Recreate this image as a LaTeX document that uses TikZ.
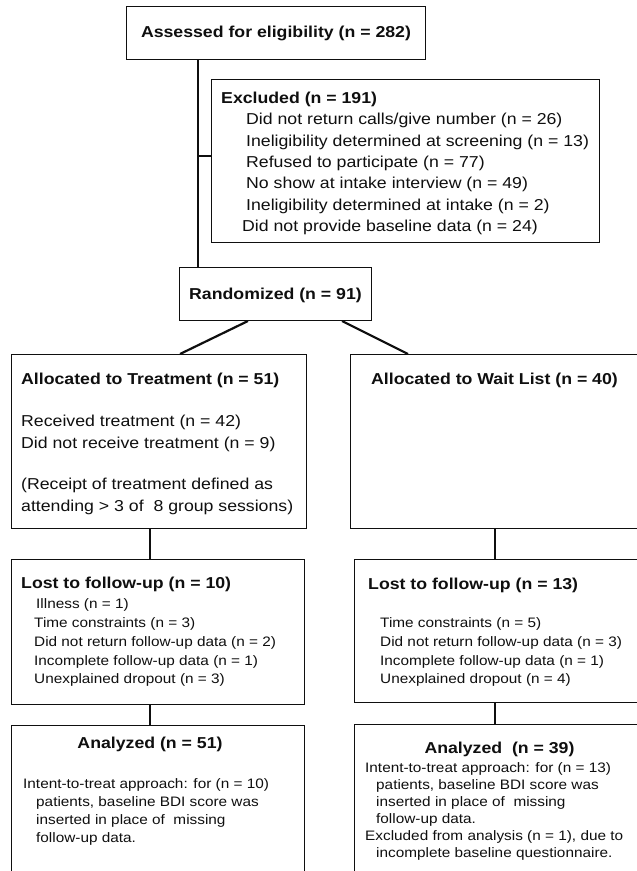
\documentclass[tikz,border=0pt]{standalone}
\usepackage{fontspec}
\setmainfont[FakeStretch=1.12]{Liberation Sans}
\usepackage{tikz}
\usetikzlibrary{calc}
\definecolor{flowink}{RGB}{15,15,15}

\tikzset{
  box/.style={draw=flowink, line width=1pt, rectangle, inner sep=0pt, anchor=north west},
  link/.style={draw=flowink, line width=2.6pt},
  slant/.style={draw=flowink, line width=2.2pt},
  big/.style={text=flowink, font=\fontsize{15.8}{21}\selectfont, inner sep=0pt, anchor=base west},
  bigbold/.style={big, font=\fontsize{15.8}{21}\selectfont\bfseries},
  small/.style={text=flowink, font=\fontsize{13.7}{18}\selectfont, inner sep=0pt, anchor=base west}
}

\begin{document}
\begin{tikzpicture}[x=1pt, y=-1pt]
\useasboundingbox (0,0) rectangle (637,871);
\fill[white] (0,0) rectangle (637,871);
\clip (0,0) rectangle (637,871);

% boxes
\node[box, minimum width=299pt, minimum height=53pt] (assess) at (126,6) {};
\node[box, minimum width=388pt, minimum height=163pt] (excl) at (211,79) {};
\node[box, minimum width=192pt, minimum height=53pt] (rand) at (179,267) {};
\node[box, minimum width=295pt, minimum height=174pt] (treat) at (11,354) {};
\node[box, minimum width=300pt, minimum height=174pt] (wait) at (350,354) {};
\node[box, minimum width=293pt, minimum height=145pt] (lostT) at (11,559) {};
\node[box, minimum width=296pt, minimum height=143pt] (lostW) at (354,559) {};
\node[box, minimum width=293pt, minimum height=160pt] (anaT) at (11,725) {};
\node[box, minimum width=296pt, minimum height=160pt] (anaW) at (354,724) {};

% connectors
\draw[link] ($(assess.south west)+(72,0)$) -- ($(rand.north west)+(19,0)$);
\coordinate (split) at ($(assess.south west)+(72,96)$);
\draw[link] (split) -- (split -| excl.west);
\draw[slant] ($(rand.south west)+(69,0)$) -- ($(treat.north west)+(169,0)$);
\draw[slant] ($(rand.south west)+(163,0)$) -- ($(wait.north west)+(58,0)$);
\draw[link] ($(treat.south west)+(139,0)$) -- ($(lostT.north west)+(139,0)$);
\draw[link] ($(wait.south west)+(145,0)$) -- ($(lostW.north west)+(141,0)$);
\draw[link] ($(lostT.south west)+(139,0)$) -- ($(anaT.north west)+(139,0)$);
\draw[link] ($(lostW.south west)+(141,0)$) -- ($(anaW.north west)+(141,0)$);

% texts
\node[bigbold, anchor=center] (assessTxt) at (assess.center) {Assessed for eligibility (n = 282)};
\node[bigbold, anchor=center] (randTxt) at ($(rand.center)+(0,1)$) {Randomized (n = 91)};

\node[bigbold] (exclTxt) at (221,103.5) {Excluded (n = 191)};
\foreach \x/\y/\txt [count=\i] in {
  246/124.8/{Did not return calls/give number (n = 26)},
  246/146.1/{Ineligibility determined at screening (n = 13)},
  246/167.4/{Refused to participate (n = 77)},
  246/188.7/{No show at intake interview (n = 49)},
  246/210/{Ineligibility determined at intake (n = 2)},
  242/231.3/{Did not provide baseline data (n = 24)}}
  \node[big] (exclItem\i) at (\x,\y) {\txt};

\node[bigbold] (treatTxt) at (21,384.5) {Allocated to Treatment (n = 51)};
\foreach \y/\txt [count=\i] in {
  426.5/{Received treatment (n = 42)},
  448.5/{Did not receive treatment (n = 9)},
  489.5/{(Receipt of treatment defined as},
  511.5/{attending > 3 of~ 8 group sessions)}}
  \node[big] (treatItem\i) at (21,\y) {\txt};

\node[bigbold] (waitTxt) at (371,384.5) {Allocated to Wait List (n = 40)};

\node[bigbold] (lostTTxt) at (21,588.5) {Lost to follow-up (n = 10)};
\foreach \x/\y/\txt [count=\i] in {
  36/608/{Illness (n = 1)},
  34/627/{Time constraints (n = 3)},
  34/646/{Did not return follow-up data (n = 2)},
  34/665/{Incomplete follow-up data (n = 1)},
  34/683.5/{Unexplained dropout (n = 3)}}
  \node[small] (lostTItem\i) at (\x,\y) {\txt};

\node[bigbold] (lostWTxt) at (368,589.5) {Lost to follow-up (n = 13)};
\foreach \y/\txt [count=\i] in {
  627/{Time constraints (n = 5)},
  646/{Did not return follow-up data (n = 3)},
  665/{Incomplete follow-up data (n = 1)},
  683.5/{Unexplained dropout (n = 4)}}
  \node[small] (lostWItem\i) at (380,\y) {\txt};

\node[bigbold, anchor=base] (anaTTxt) at (150,748) {Analyzed (n = 51)};
\foreach \x/\y/\txt [count=\i] in {
  23/788/{Intent-to-treat approach: for (n = 10)},
  36/806/{patients, baseline BDI score was},
  36/824/{inserted in place of~ missing},
  36/842/{follow-up data.}}
  \node[small] (anaTItem\i) at (\x,\y) {\txt};

\node[bigbold, anchor=base] (anaWTxt) at (499.5,753) {Analyzed~ (n = 39)};
\foreach \x/\y/\txt [count=\i] in {
  365/772/{Intent-to-treat approach: for (n = 13)},
  376/789/{patients, baseline BDI score was},
  376/806/{inserted in place of~ missing},
  376/823/{follow-up data.},
  365/840/{Excluded from analysis (n = 1), due to},
  376/857/{incomplete baseline questionnaire.}}
  \node[small] (anaWItem\i) at (\x,\y) {\txt};
\end{tikzpicture}
\end{document}
